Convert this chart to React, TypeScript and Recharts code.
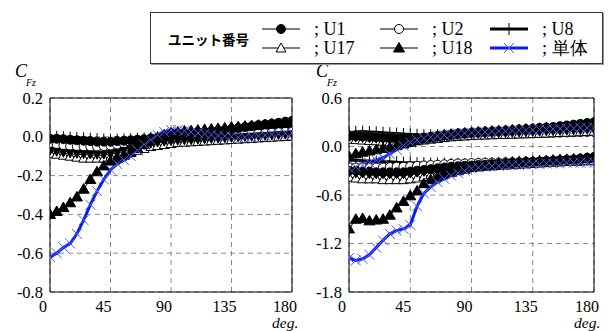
import React from "react";
import { LineChart, Line, XAxis, YAxis, CartesianGrid, ReferenceArea } from "recharts";

// wind direction (deg), every 5 degrees
const degrees = [
  0, 5, 10, 15, 20, 25, 30, 35, 40, 45,
  50, 55, 60, 65, 70, 75, 80, 85, 90, 95,
  100, 105, 110, 115, 120, 125, 130, 135, 140, 145,
  150, 155, 160, 165, 170, 175, 180,
];
const xTicks = [0, 45, 90, 135, 180];
const leftYTicks = [-0.8, -0.6, -0.4, -0.2, 0, 0.2];
const rightYTicks = [-1.8, -1.2, -0.6, 0, 0.6];

// left panel: C_Fz (mean)
const leftU1 = [
  -0.01, -0.01, -0.012, -0.015, -0.018, -0.02, -0.022, -0.025, -0.025, -0.025,
  -0.022, -0.02, -0.018, -0.015, -0.012, -0.008, -0.004, 0.0, 0.005, 0.01,
  0.015, 0.02, 0.022, 0.025, 0.028, 0.032, 0.035, 0.04, 0.045, 0.05,
  0.055, 0.06, 0.064, 0.068, 0.072, 0.078, 0.082,
];
const leftU2 = [
  -0.04, -0.045, -0.045, -0.048, -0.05, -0.05, -0.05, -0.05, -0.048, -0.045,
  -0.04, -0.035, -0.03, -0.025, -0.02, -0.015, -0.01, -0.005, 0.0, 0.0,
  0.002, 0.003, 0.004, 0.005, 0.006, 0.007, 0.008, 0.01, 0.012, 0.014,
  0.016, 0.018, 0.02, 0.022, 0.024, 0.026, 0.028,
];
const leftU8 = [
  0.0, 0.0, -0.002, -0.004, -0.006, -0.008, -0.01, -0.012, -0.014, -0.015,
  -0.015, -0.014, -0.012, -0.01, -0.008, -0.005, -0.002, 0.0, 0.002, 0.004,
  0.006, 0.008, 0.01, 0.012, 0.014, 0.016, 0.018, 0.02, 0.023, 0.026,
  0.029, 0.032, 0.036, 0.04, 0.044, 0.048, 0.05,
];
const leftU17 = [
  -0.085, -0.09, -0.095, -0.1, -0.105, -0.11, -0.11, -0.11, -0.11, -0.105,
  -0.1, -0.09, -0.08, -0.07, -0.06, -0.05, -0.045, -0.04, -0.035, -0.03,
  -0.028, -0.026, -0.024, -0.022, -0.02, -0.018, -0.016, -0.014, -0.012, -0.01,
  -0.008, -0.006, -0.004, -0.002, 0.0, 0.002, 0.004,
];
const leftInv = [
  -0.075, -0.08, -0.085, -0.088, -0.09, -0.092, -0.094, -0.095, -0.095, -0.09,
  -0.085, -0.075, -0.065, -0.055, -0.045, -0.038, -0.032, -0.028, -0.025, -0.023,
  -0.021, -0.02, -0.018, -0.016, -0.014, -0.012, -0.01, -0.008, -0.006, -0.004,
  -0.002, 0.0, 0.002, 0.004, 0.006, 0.008, 0.01,
];
const leftU18 = [
  -0.4, -0.385, -0.365, -0.34, -0.31, -0.27, -0.22, -0.18, -0.15, -0.125,
  -0.11, -0.095, -0.08, -0.06, -0.04, -0.02, -0.005, 0.01, 0.02, 0.025,
  0.03, 0.032, 0.035, 0.038, 0.04, 0.043, 0.046, 0.05, 0.052, 0.055,
  0.058, 0.06, 0.063, 0.066, 0.068, 0.07, 0.072,
];
const leftSingle = [
  -0.62, -0.6, -0.57, -0.55, -0.5, -0.43, -0.35, -0.28, -0.22, -0.17,
  -0.14, -0.12, -0.1, -0.07, -0.04, -0.015, 0.01, 0.025, 0.035, 0.035,
  0.03, 0.025, 0.02, 0.015, 0.01, 0.006, 0.003, 0.0, -0.003, -0.003,
  0.0, 0.004, 0.008, 0.012, 0.015, 0.018, 0.02,
];

// right panel: C_Fz' (max / min)
const rightU1Max = [
  0.13, 0.13, 0.125, 0.12, 0.115, 0.11, 0.105, 0.1, 0.1, 0.1,
  0.105, 0.11, 0.12, 0.13, 0.14, 0.15, 0.16, 0.165, 0.17, 0.175,
  0.18, 0.185, 0.19, 0.195, 0.2, 0.21, 0.215, 0.22, 0.23, 0.235,
  0.24, 0.25, 0.26, 0.27, 0.28, 0.29, 0.3,
];
const rightU2Max = [
  0.14, 0.14, 0.135, 0.13, 0.125, 0.12, 0.115, 0.11, 0.105, 0.1,
  0.1, 0.105, 0.11, 0.12, 0.125, 0.13, 0.135, 0.14, 0.145, 0.148,
  0.15, 0.152, 0.154, 0.156, 0.158, 0.16, 0.162, 0.164, 0.166, 0.168,
  0.17, 0.172, 0.174, 0.176, 0.178, 0.18, 0.18,
];
const rightU8Max = [
  0.17, 0.18, 0.185, 0.18, 0.175, 0.17, 0.165, 0.16, 0.155, 0.15,
  0.145, 0.14, 0.14, 0.142, 0.145, 0.15, 0.155, 0.16, 0.165, 0.17,
  0.175, 0.18, 0.185, 0.19, 0.195, 0.2, 0.205, 0.21, 0.215, 0.22,
  0.225, 0.23, 0.235, 0.24, 0.245, 0.25, 0.255,
];
const rightU17Max = [
  0.09, 0.085, 0.08, 0.075, 0.07, 0.065, 0.06, 0.06, 0.06, 0.065,
  0.07, 0.08, 0.09, 0.1, 0.11, 0.12, 0.125, 0.13, 0.135, 0.14,
  0.142, 0.145, 0.148, 0.15, 0.152, 0.155, 0.158, 0.16, 0.163, 0.166,
  0.17, 0.173, 0.176, 0.18, 0.183, 0.186, 0.19,
];
const rightInvMax = [
  0.11, 0.105, 0.1, 0.095, 0.09, 0.085, 0.08, 0.078, 0.076, 0.078,
  0.082, 0.09, 0.1, 0.11, 0.12, 0.13, 0.135, 0.14, 0.145, 0.15,
  0.152, 0.155, 0.158, 0.16, 0.163, 0.166, 0.17, 0.173, 0.176, 0.18,
  0.183, 0.186, 0.19, 0.193, 0.196, 0.2, 0.2,
];
const rightU18Max = [
  -0.12, -0.09, -0.07, -0.055, -0.04, -0.025, -0.01, 0.01, 0.03, 0.05,
  0.075, 0.095, 0.11, 0.125, 0.135, 0.145, 0.155, 0.165, 0.175, 0.18,
  0.185, 0.19, 0.195, 0.2, 0.205, 0.21, 0.215, 0.22, 0.225, 0.23,
  0.235, 0.24, 0.248, 0.255, 0.262, 0.27, 0.28,
];
const rightSingleMax = [
  -0.27, -0.25, -0.23, -0.2, -0.17, -0.14, -0.09, -0.04, 0.01, 0.05,
  0.08, 0.1, 0.115, 0.13, 0.14, 0.15, 0.16, 0.165, 0.17, 0.175,
  0.18, 0.185, 0.19, 0.19, 0.195, 0.2, 0.2, 0.205, 0.21, 0.21,
  0.215, 0.22, 0.22, 0.225, 0.23, 0.23, 0.235,
];
const rightU1Min = [
  -0.3, -0.3, -0.31, -0.31, -0.32, -0.32, -0.32, -0.32, -0.32, -0.31,
  -0.3, -0.29, -0.28, -0.27, -0.26, -0.25, -0.245, -0.24, -0.235, -0.23,
  -0.225, -0.22, -0.215, -0.21, -0.205, -0.2, -0.195, -0.19, -0.185, -0.18,
  -0.175, -0.17, -0.165, -0.16, -0.15, -0.14, -0.13,
];
const rightU2Min = [
  -0.26, -0.26, -0.26, -0.26, -0.26, -0.26, -0.255, -0.25, -0.25, -0.245,
  -0.24, -0.235, -0.23, -0.225, -0.22, -0.215, -0.21, -0.21, -0.205, -0.205,
  -0.2, -0.2, -0.2, -0.195, -0.195, -0.195, -0.19, -0.19, -0.19, -0.185,
  -0.185, -0.185, -0.18, -0.18, -0.18, -0.175, -0.175,
];
const rightU8Min = [
  -0.17, -0.17, -0.175, -0.18, -0.185, -0.19, -0.19, -0.195, -0.2, -0.2,
  -0.205, -0.205, -0.21, -0.21, -0.21, -0.215, -0.215, -0.215, -0.215, -0.21,
  -0.21, -0.205, -0.2, -0.2, -0.195, -0.19, -0.19, -0.185, -0.18, -0.18,
  -0.175, -0.17, -0.165, -0.16, -0.155, -0.15, -0.15,
];
const rightU17Min = [
  -0.38, -0.39, -0.4, -0.4, -0.4, -0.41, -0.41, -0.41, -0.41, -0.4,
  -0.39, -0.37, -0.35, -0.33, -0.31, -0.29, -0.28, -0.27, -0.26, -0.25,
  -0.245, -0.24, -0.235, -0.23, -0.225, -0.22, -0.215, -0.21, -0.205, -0.2,
  -0.195, -0.19, -0.185, -0.18, -0.175, -0.17, -0.17,
];
const rightInvMin = [
  -0.33, -0.34, -0.34, -0.35, -0.35, -0.35, -0.35, -0.35, -0.35, -0.34,
  -0.33, -0.32, -0.3, -0.29, -0.28, -0.27, -0.26, -0.25, -0.245, -0.24,
  -0.235, -0.23, -0.225, -0.22, -0.215, -0.21, -0.205, -0.2, -0.195, -0.19,
  -0.185, -0.18, -0.175, -0.17, -0.165, -0.16, -0.16,
];
const rightU18Min = [
  -1.02, -0.9, -0.89, -0.92, -0.91, -0.9, -0.85, -0.76, -0.68, -0.61,
  -0.55, -0.46, -0.41, -0.37, -0.34, -0.32, -0.3, -0.28, -0.26, -0.25,
  -0.24, -0.23, -0.22, -0.21, -0.2, -0.195, -0.19, -0.185, -0.18, -0.175,
  -0.17, -0.165, -0.16, -0.155, -0.15, -0.145, -0.14,
];
const rightSingleMin = [
  -1.38, -1.41, -1.39, -1.34, -1.25, -1.16, -1.08, -1.04, -1.02, -0.97,
  -0.74, -0.58, -0.5, -0.44, -0.4, -0.36, -0.33, -0.3, -0.27, -0.26,
  -0.25, -0.24, -0.24, -0.23, -0.23, -0.23, -0.22, -0.22, -0.22, -0.21,
  -0.21, -0.21, -0.2, -0.2, -0.2, -0.2, -0.2,
];

const legendTitle = "ユニット番号";
const legendLabels = ["; U1", "; U2", "; U8", "; U17", "; U18", "; 単体"];

const leftData = degrees.map((deg, i) => ({
  deg,
  u1: leftU1[i],
  u2: leftU2[i],
  u8: leftU8[i],
  u17: leftU17[i],
  inv: leftInv[i],
  u18: leftU18[i],
  single: leftSingle[i],
}));

const rightData = degrees.map((deg, i) => ({
  deg,
  u1Max: rightU1Max[i],
  u2Max: rightU2Max[i],
  u8Max: rightU8Max[i],
  u17Max: rightU17Max[i],
  invMax: rightInvMax[i],
  u18Max: rightU18Max[i],
  singleMax: rightSingleMax[i],
  u1Min: rightU1Min[i],
  u2Min: rightU2Min[i],
  u8Min: rightU8Min[i],
  u17Min: rightU17Min[i],
  invMin: rightInvMin[i],
  u18Min: rightU18Min[i],
  singleMin: rightSingleMin[i],
}));

const SERIF = "Liberation Serif, DejaVu Serif, serif";
const BLUE = "#0a1ee6";
const CROSS = "#4d5cff";

type Mark = "disc" | "ring" | "plus" | "tri" | "triFill" | "triDown" | "cross";

const drawMark = (kind: Mark, cx: number, cy: number, key?: string | number) => {
  switch (kind) {
    case "disc":
      return <circle key={key} cx={cx} cy={cy} r={4.5} fill="#000" stroke="#000" />;
    case "ring":
      return <circle key={key} cx={cx} cy={cy} r={4.5} fill="#fff" stroke="#000" strokeWidth={1} />;
    case "plus":
      return (
        <path key={key} d={`M${cx - 5},${cy}H${cx + 5}M${cx},${cy - 6}V${cy + 6}`} stroke="#000" strokeWidth={1} fill="none" />
      );
    case "tri":
      return (
        <polygon key={key} points={`${cx},${cy - 5} ${cx + 5},${cy + 4} ${cx - 5},${cy + 4}`} fill="#fff" stroke="#000" strokeWidth={1} />
      );
    case "triFill":
      return (
        <polygon key={key} points={`${cx},${cy - 5.5} ${cx + 5.5},${cy + 4} ${cx - 5.5},${cy + 4}`} fill="#000" stroke="#000" />
      );
    case "triDown":
      return (
        <polygon key={key} points={`${cx - 4},${cy - 4} ${cx + 4},${cy - 4} ${cx},${cy + 4}`} fill="#000" stroke="#000" />
      );
    case "cross":
    default:
      return (
        <path key={key} d={`M${cx - 5},${cy - 5}L${cx + 5},${cy + 5}M${cx - 5},${cy + 5}L${cx + 5},${cy - 5}`} stroke={CROSS} strokeWidth={1} fill="none" />
      );
  }
};

const dotOf = (kind: Mark) => (props: any) => {
  const { cx, cy, index } = props;
  if (cx == null || cy == null) return <g key={index} />;
  return drawMark(kind, cx, cy, index);
};

const styles: Record<string, { kind: Mark; stroke: string; width: number }> = {
  u8: { kind: "plus", stroke: "#000", width: 3 },
  u2: { kind: "ring", stroke: "#000", width: 1 },
  u17: { kind: "tri", stroke: "#000", width: 1 },
  inv: { kind: "triDown", stroke: "#000", width: 1 },
  u1: { kind: "disc", stroke: "#000", width: 1 },
  u18: { kind: "triFill", stroke: "#000", width: 1 },
  single: { kind: "cross", stroke: BLUE, width: 3 },
};
const drawOrder = ["u8", "u2", "u17", "inv", "u1", "u18", "single"];

const XTick = (props: any) => {
  const { x, y, payload } = props;
  return (
    <text x={x - 7} y={y + 12} textAnchor="middle" style={{ fontFamily: SERIF }} fontSize={16} fill="#000">
      {payload.value}
    </text>
  );
};

const YTick = (props: any) => {
  const { x, y, payload } = props;
  return (
    <text x={x + 1} y={y + 5.5} textAnchor="end" style={{ fontFamily: SERIF }} fontSize={16.5} fill="#000">
      {Number(payload.value).toFixed(1)}
    </text>
  );
};

const seriesLine = (key: string, styleKey: string) => {
  const s = styles[styleKey];
  return (
    <Line
      key={key}
      dataKey={key}
      type="linear"
      stroke={s.stroke}
      strokeWidth={s.width}
      dot={dotOf(s.kind)}
      activeDot={false}
      isAnimationActive={false}
    />
  );
};

const Panel = ({ data, keys, yDomain, yTicks, width, left, right }: any) => (
  <LineChart
    width={width}
    height={331}
    data={data}
    margin={{ top: 98, right, bottom: 14, left }}
  >
    <CartesianGrid stroke="#8a8a8a" strokeDasharray="5 4" />
    <XAxis
      dataKey="deg"
      type="number"
      domain={[0, 180]}
      ticks={xTicks}
      interval={0}
      tickLine={false}
      axisLine={false}
      height={25}
      tick={<XTick />}
      allowDataOverflow
    />
    <YAxis
      type="number"
      domain={yDomain}
      ticks={yTicks}
      interval={0}
      tickLine={false}
      axisLine={false}
      width={42}
      tick={<YTick />}
      allowDataOverflow
    />
    <ReferenceArea x1={0} x2={180} y1={yDomain[0]} y2={yDomain[1]} fill="none" fillOpacity={0} stroke="#000" strokeWidth={1} />
    {keys.map(([k, s]: [string, string]) => seriesLine(k, s))}
  </LineChart>
);

const legendItems: { kind: Mark; stroke: string; width: number; x: number; y: number }[] = [
  { ...styles.u1, x: 110, y: 16 },
  { ...styles.u2, x: 228, y: 16 },
  { ...styles.u8, x: 338, y: 16 },
  { ...styles.u17, x: 110, y: 35 },
  { ...styles.u18, x: 228, y: 35 },
  { ...styles.single, x: 338, y: 35 },
];

const Legend = () => (
  <div
    style={{
      position: "absolute",
      left: 150,
      top: 12,
      width: 451,
      height: 50,
      border: "1px solid #333",
      boxShadow: "1px 1px 0 #999",
      background: "#fff",
    }}
  >
    <div
      style={{
        position: "absolute",
        left: 17,
        top: 16,
        fontFamily: '"Noto Sans CJK JP", sans-serif',
        fontWeight: 700,
        fontSize: 13.5,
        lineHeight: "20px",
      }}
    >
      {legendTitle}
    </div>
    {legendItems.map((it, i) => (
      <React.Fragment key={i}>
        <svg width={40} height={14} style={{ position: "absolute", left: it.x, top: it.y - 7 }}>
          <line x1={1} y1={7} x2={39} y2={7} stroke={it.stroke} strokeWidth={it.width} />
          {drawMark(it.kind, 20, 7)}
        </svg>
        <div
          style={{
            position: "absolute",
            left: it.x + 53,
            top: it.y - 11,
            fontFamily: SERIF,
            fontSize: 18,
            lineHeight: "22px",
            whiteSpace: "nowrap",
          }}
        >
          {legendLabels[i]}
        </div>
      </React.Fragment>
    ))}
  </div>
);

const AxisTitle = ({ x, prime }: { x: number; prime?: boolean }) => (
  <>
    <div style={{ position: "absolute", left: x, top: 61, fontFamily: SERIF, fontStyle: "italic", fontSize: 18, lineHeight: "20px" }}>
      C
    </div>
    <div style={{ position: "absolute", left: x + 11, top: 77, fontFamily: SERIF, fontStyle: "italic", fontSize: 10, lineHeight: "11px" }}>
      Fz
    </div>
    {prime && (
      <div style={{ position: "absolute", left: x + 19, top: 58, fontFamily: SERIF, fontSize: 14, lineHeight: "16px" }}>
        '
      </div>
    )}
  </>
);

const DegLabel = ({ x }: { x: number }) => (
  <div style={{ position: "absolute", left: x, top: 315, fontFamily: SERIF, fontStyle: "italic", fontSize: 15.5, lineHeight: "15px" }}>
    deg.
  </div>
);

const leftKeys = drawOrder.map((k) => [k, k]);
const rightKeys = drawOrder.flatMap((k) => [
  [`${k}Max`, k],
  [`${k}Min`, k],
]);

export default function App() {
  return (
    <div style={{ position: "absolute", left: 0, top: 0, width: 609, height: 331, background: "#fff", overflow: "hidden" }}>
      <div style={{ position: "absolute", left: 0, top: 0 }}>
        <Panel data={leftData} keys={leftKeys} yDomain={[-0.8, 0.2]} yTicks={leftYTicks} width={300} left={8} right={8} />
      </div>
      <div style={{ position: "absolute", left: 300, top: 0 }}>
        <Panel data={rightData} keys={rightKeys} yDomain={[-1.8, 0.6]} yTicks={rightYTicks} width={309} left={7} right={15} />
      </div>
      <AxisTitle x={15} />
      <AxisTitle x={316} prime />
      <DegLabel x={272} />
      <DegLabel x={574} />
      <Legend />
    </div>
  );
}
